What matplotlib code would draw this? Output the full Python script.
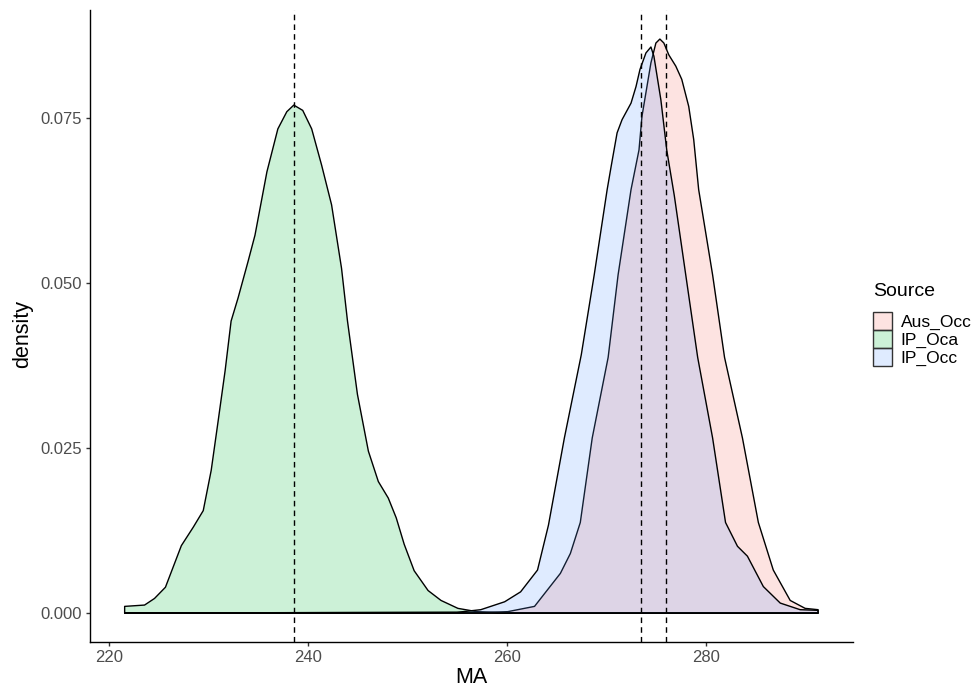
import numpy as np
import matplotlib
matplotlib.use("Agg")
import matplotlib.pyplot as plt
from matplotlib.colors import to_rgba
from matplotlib.patches import Patch

plt.rcParams['font.family'] = ['Liberation Sans', 'DejaVu Sans']

# density curves (x = MA, y = density)
aus_x = [221.6, 258.0, 260.1, 262.8, 264.1, 265.4, 266.4, 267.4, 268.6, 270.2,
         271.2, 272.5, 273.3, 273.6, 274.1, 274.5, 275.0, 275.4, 275.8, 276.3,
         277.0, 277.6, 278.3, 278.8, 279.3, 280.7, 281.9, 283.7, 285.3, 286.8,
         288.5, 290.0, 291.3]
aus_d = [0.0, 0.0001, 0.0002, 0.0010, 0.0035, 0.0060, 0.0090, 0.0137, 0.0265, 0.0387,
         0.0512, 0.0641, 0.0701, 0.0752, 0.0797, 0.0833, 0.0863, 0.0869, 0.0863, 0.0845,
         0.0828, 0.0808, 0.0767, 0.0717, 0.0641, 0.0512, 0.0387, 0.0265, 0.0137, 0.0065,
         0.0019, 0.0007, 0.0005]

oca_x = [221.6, 223.6, 224.6, 225.7, 227.3, 228.5, 229.5, 230.3, 231.0, 231.7,
         232.3, 233.0, 234.0, 234.7, 235.9, 237.0, 237.9, 238.6, 239.5, 240.4,
         241.4, 242.4, 243.4, 244.0, 245.0, 246.1, 247.1, 248.1, 248.9, 249.7,
         250.7, 252.1, 253.4, 255.1, 257.0, 260.0, 291.3]
oca_d = [0.0010, 0.0012, 0.0022, 0.0039, 0.0102, 0.0130, 0.0155, 0.0216, 0.0291, 0.0367,
         0.0442, 0.0477, 0.0532, 0.0572, 0.0668, 0.0733, 0.0759, 0.0769, 0.0761, 0.0733,
         0.0678, 0.0618, 0.0522, 0.0442, 0.0331, 0.0245, 0.0199, 0.0174, 0.0144, 0.0104,
         0.0064, 0.0034, 0.0019, 0.0007, 0.0002, 0.0, 0.0]

occ_x = [221.6, 255.0, 257.4, 259.8, 261.4, 263.1, 264.2, 265.8, 267.5, 268.8,
         270.1, 270.5, 271.1, 271.6, 272.5, 273.0, 273.4, 274.0, 274.5, 274.8,
         275.5, 276.1, 276.85, 278.0, 279.2, 280.7, 282.0, 283.2, 284.2, 285.8,
         287.5, 289.5, 291.3]
occ_d = [0.0, 0.0001, 0.0005, 0.0017, 0.0032, 0.0065, 0.0133, 0.0265, 0.0391, 0.0512,
         0.0641, 0.0676, 0.0727, 0.0747, 0.0772, 0.0797, 0.0823, 0.0848, 0.0857, 0.0843,
         0.0777, 0.0700, 0.0632, 0.0512, 0.0387, 0.0265, 0.0137, 0.0101, 0.0086, 0.0040,
         0.0015, 0.0005, 0.0004]

sources = ['Aus_Occ', 'IP_Oca', 'IP_Occ']
colors = ['#F8766D', '#00BA38', '#619CFF']
means = [276.0, 238.6, 273.5]

fig = plt.figure(figsize=(9.77, 6.86), dpi=100)
ax = fig.add_axes([0.0921, 0.0646, 0.7807, 0.9203])

curves = [(aus_x, aus_d), (oca_x, oca_d), (occ_x, occ_d)]
for (x, d), c in zip(curves, colors):
    ax.fill(x + [x[-1], x[0]], d + [0.0, 0.0], facecolor=to_rgba(c, 0.2),
            edgecolor='black', linewidth=1.0, joinstyle='round')

for m in means:
    ax.axvline(m, color='black', linestyle=(0, (4, 3)), linewidth=1.0)

# ggplot-like 5% expansion
allx = aus_x + oca_x + occ_x
ally = aus_d + oca_d + occ_d
xr = max(allx) - min(allx)
yr = max(ally)
ax.set_xlim(min(allx) - 0.05 * xr, max(allx) + 0.05 * xr)
ax.set_ylim(-0.05 * yr, yr * 1.05)

ax.set_xticks([220, 240, 260, 280])
ax.set_yticks([0.0, 0.025, 0.05, 0.075])
ax.set_yticklabels(['0.000', '0.025', '0.050', '0.075'])

for s in ['top', 'right']:
    ax.spines[s].set_visible(False)
for s in ['left', 'bottom']:
    ax.spines[s].set_linewidth(1.0)
ax.tick_params(length=3.2, width=1.0, color='#333333', labelcolor='#4D4D4D',
               labelsize=12, pad=2.5)

ax.set_xlabel('MA', fontsize=15.5)
ax.set_ylabel('density', fontsize=15.5)
ax.xaxis.set_label_coords(0.5, -0.040)
ax.yaxis.set_label_coords(-0.075, 0.487)

handles = [Patch(facecolor=to_rgba(c, 0.2), edgecolor='#333333', linewidth=1.0)
           for c in colors]
leg = fig.legend(handles, sources, title='Source', loc='upper left',
                 bbox_to_anchor=(873 / 977, 1 - 283 / 686), frameon=False,
                 fontsize=12.5, title_fontsize=14, borderpad=0, borderaxespad=0,
                 labelspacing=0.0, handlelength=1.1, handleheight=1.2,
                 handletextpad=0.5, alignment='left')
leg._legend_box.sep = 9

fig.savefig('out.png', dpi=100)
